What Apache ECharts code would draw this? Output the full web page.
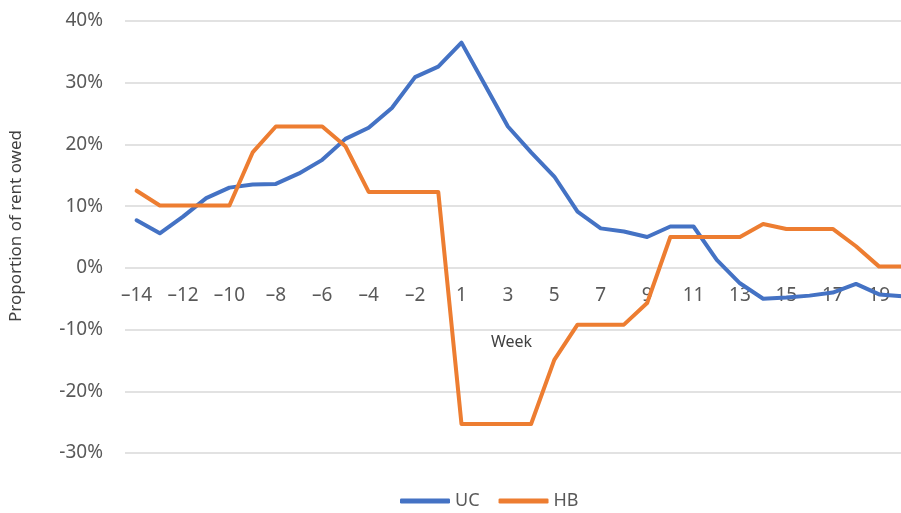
<!DOCTYPE html>
<html>
<head>
<meta charset="utf-8">
<script src="https://cdn.jsdelivr.net/npm/echarts@6/dist/echarts.min.js"></script>
<style>
  html, body { margin: 0; padding: 0; background: #fff; overflow: hidden; }
  /* plot runs slightly past the right edge, as in the original export */
  #main { width: 914px; height: 513px; }
</style>
</head>
<body>
<div id="main"></div>
<script>
// weeks relative to the change (no week 0)
const weeks = ['-14', '-13', '-12', '-11', '-10', '-9', '-8', '-7', '-6', '-5', '-4', '-3', '-2', '-1',
  '1', '2', '3', '4', '5', '6', '7', '8', '9', '10', '11', '12', '13', '14', '15', '16', '17', '18', '19', '20']

// proportion of rent owed, in %
const ucValues = [7.7, 5.6, 8.3, 11.3, 13.0, 13.5, 13.6, 15.3, 17.5, 20.9, 22.7, 25.9, 30.9, 32.6,
  36.5, 29.7, 22.9, 18.7, 14.8, 9.1, 6.4, 5.9, 5.0, 6.7, 6.7, 1.3, -2.5, -5.0, -4.8, -4.5, -4.0, -2.6, -4.3, -4.6]
const hbValues = [12.5, 10.1, 10.1, 10.1, 10.1, 18.7, 22.9, 22.9, 22.9, 19.7, 12.3, 12.3, 12.3, 12.3,
  -25.3, -25.3, -25.3, -25.3, -14.9, -9.2, -9.2, -9.2, -5.7, 5.0, 5.0, 5.0, 5.0, 7.1, 6.3, 6.3, 6.3, 3.5, 0.2, 0.2]

const textColor = '#595959'
const font = '"Noto Sans", "Open Sans", sans-serif'

const chart = echarts.init(document.getElementById('main'))
chart.setOption({
  animation: false,
  color: ['#4472C4', '#ED7D31'],
  grid: { left: 121, right: 0, top: 21, bottom: 60 },
  legend: {
    data: ['UC', 'HB'],
    left: 395,
    top: 487,
    icon: 'roundRect',
    itemWidth: 50,
    itemHeight: 5,
    itemGap: 19,
    itemStyle: { borderWidth: 0 },
    textStyle: { color: textColor, fontSize: 18, fontFamily: font }
  },
  xAxis: {
    type: 'category',
    data: weeks,
    offset: -185,
    name: 'Week',
    nameLocation: 'middle',
    nameGap: 66,
    nameTextStyle: { color: '#404040', fontSize: 16, fontFamily: font, padding: [0, 16, 0, 0] },
    axisLine: { show: false },
    axisTick: { show: false },
    axisLabel: {
      interval: 1,
      margin: 18,
      color: textColor,
      fontSize: 19,
      fontFamily: font,
      formatter: v => v.replace('-', '\u2013')
    }
  },
  yAxis: {
    type: 'value',
    min: -30,
    max: 40,
    interval: 10,
    name: 'Proportion of rent owed',
    nameLocation: 'middle',
    nameGap: 100,
    nameTextStyle: { color: '#404040', fontSize: 17, fontFamily: font, padding: [0, 0, 0, 22] },
    axisLabel: {
      margin: 22,
      color: textColor,
      fontSize: 19,
      fontFamily: font,
      formatter: '{value}%'
    },
    splitLine: { lineStyle: { color: '#d9d9d9', width: 1.5 } }
  },
  series: [
    {
      name: 'UC',
      type: 'line',
      data: ucValues,
      symbol: 'none',
      lineStyle: { width: 4, cap: 'round', join: 'round' }
    },
    {
      name: 'HB',
      type: 'line',
      data: hbValues,
      symbol: 'none',
      lineStyle: { width: 4, cap: 'round', join: 'round' }
    }
  ]
})
</script>
</body>
</html>
